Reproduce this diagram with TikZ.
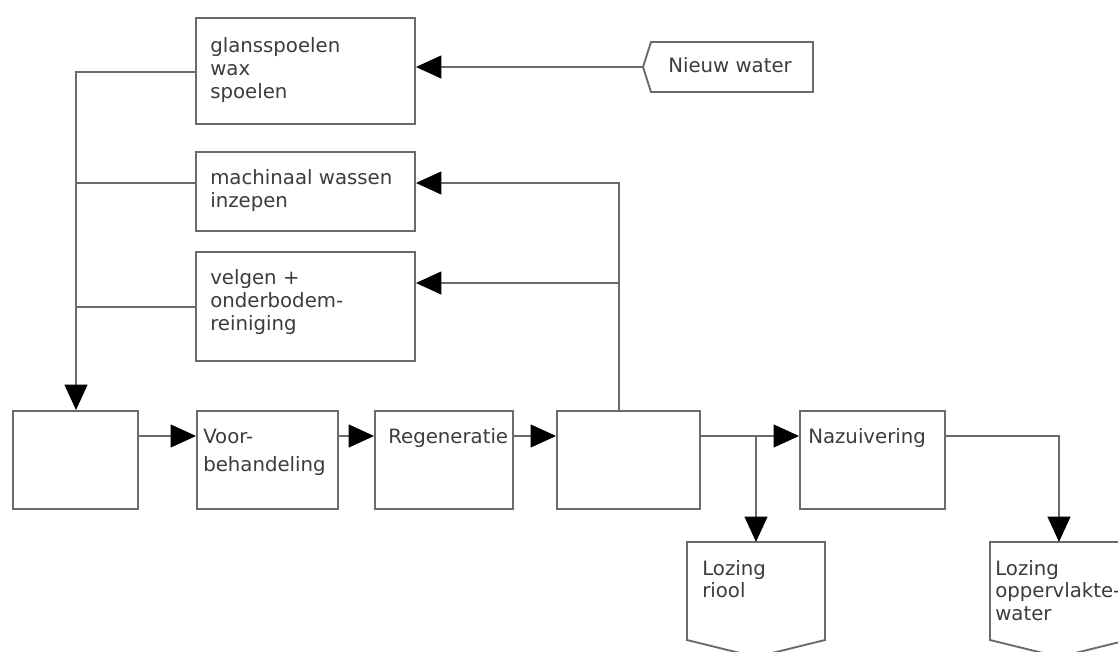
\documentclass[tikz,border=0pt]{standalone}
\usepackage{fontspec}
\setmainfont{DejaVu Sans}
\usetikzlibrary{arrows.meta,fit}
\definecolor{linegray}{HTML}{6A6A6A}
\definecolor{txtgray}{HTML}{3C3C3C}
\begin{document}
\begin{tikzpicture}[x=0.75pt,y=-0.75pt,
  box/.style={draw=linegray, line width=1.4pt, inner sep=0pt, fill=white},
  shapeline/.style={draw=linegray, line width=1.4pt, fill=white, line join=miter},
  flow/.style={draw=linegray, line width=1.5pt, -{Triangle[length=19pt,width=17pt,color=black]}},
  link/.style={draw=linegray, line width=1.5pt},
  lbl/.style={anchor=base west, inner sep=0pt, text=txtgray, font=\fontsize{14.8}{16.9}\selectfont}
]
\useasboundingbox (0,0) rectangle (1118,652);
\clip (0,0) rectangle (1118,652);

% process boxes of the washing line
\node[box, fit={(196,18)(415,124)}] (rinse) {};
\node[box, fit={(196,152)(415,231)}] (wash) {};
\node[box, fit={(196,252)(415,361)}] (rims) {};

% treatment chain
\node[box, fit={(13,411)(138,509)}] (buffer) {};
\node[box, fit={(197,411)(338,509)}] (pre) {};
\node[box, fit={(375,411)(513,509)}] (regen) {};
\node[box, fit={(557,411)(700,509)}] (store) {};
\node[box, fit={(800,411)(945,509)}] (post) {};

% labels
\node[lbl] (rinseT) at (210,53) {\begin{tabular}[t]{@{}l@{}}glansspoelen\\wax\\spoelen\end{tabular}};
\node[lbl] (washT) at (210,185) {\begin{tabular}[t]{@{}l@{}}machinaal wassen\\inzepen\end{tabular}};
\node[lbl] (rimsT) at (210,285) {\begin{tabular}[t]{@{}l@{}}velgen +\\onderbodem-\\reiniging\end{tabular}};
\node[lbl] (preT) at (203,443) {\renewcommand\arraystretch{1.25}\begin{tabular}[t]{@{}l@{}}Voor-\\behandeling\end{tabular}};
\node[lbl] (regenT) at (388,443) {Regeneratie};
\node[lbl] (postT) at (808,443) {Nazuivering};

% fresh water supply
\draw[shapeline] (651,42) -- (813,42) -- (813,92) -- (651,92) -- (643,67) -- cycle;
\coordinate (fresh) at (643,67);
\node[lbl] (freshT) at (668,73) {Nieuw water};

% discharge points
\draw[shapeline] (687,542) -- (825,542) -- (825,640) -- (756,657) -- (687,640) -- cycle;
\coordinate (sewer) at (756,542);
\node[lbl] (sewerT) at (702,575) {\begin{tabular}[t]{@{}l@{}}Lozing\\riool\end{tabular}};

\draw[shapeline] (990,542) -- (1128,542) -- (1128,640) -- (1059,657) -- (990,640) -- cycle;
\coordinate (surface) at (1059,542);
\node[lbl] (surfaceT) at (995,575) {\begin{tabular}[t]{@{}l@{}}Lozing\\oppervlakte-\\water\end{tabular}};

% junction points
\coordinate (jL1) at (76,72);
\coordinate (jL2) at (76,183);
\coordinate (jL3) at (76,307);
\coordinate (jR1) at (619,183);
\coordinate (jR2) at (619,283);
\coordinate (mainline) at (0,436);
\coordinate (jD1) at (756,436);
\coordinate (jD2) at (1059,436);

% connectors
\draw[flow] (fresh) -- (rinse.east |- fresh);
\draw[flow] (rinse.west |- jL1) -- (jL1) -- (buffer.north -| jL1);
\draw[link] (wash.west |- jL2) -- (jL2);
\draw[link] (rims.west |- jL3) -- (jL3);
\draw[flow] (store.north -| jR1) -- (jR1) -- (wash.east |- jR1);
\draw[flow] (jR2) -- (rims.east |- jR2);

\draw[flow] (buffer.east |- mainline) -- (pre.west |- mainline);
\draw[flow] (pre.east |- mainline) -- (regen.west |- mainline);
\draw[flow] (regen.east |- mainline) -- (store.west |- mainline);
\draw[flow] (store.east |- mainline) -- (post.west |- mainline);
\draw[flow] (jD1) -- (sewer);
\draw[flow] (post.east |- mainline) -- (jD2) -- (surface);
\end{tikzpicture}
\end{document}
